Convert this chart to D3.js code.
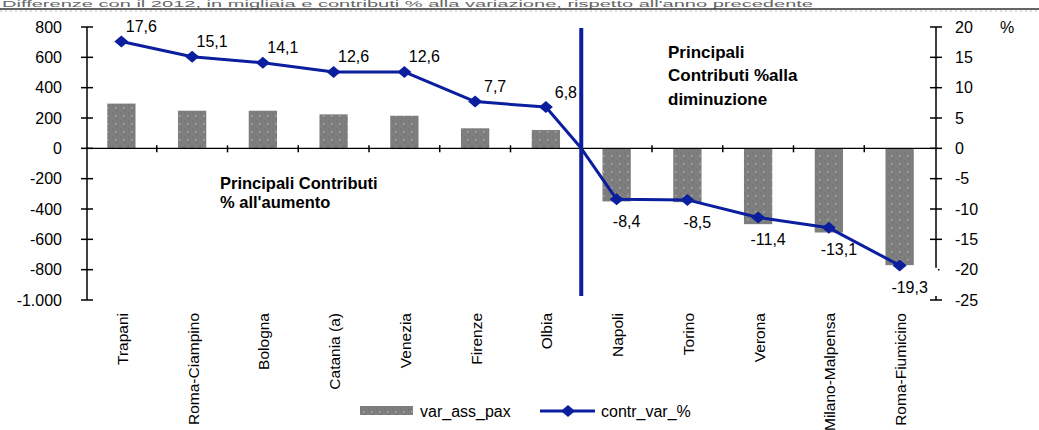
<!DOCTYPE html>
<html><head><meta charset="utf-8">
<script src="https://cdn.jsdelivr.net/npm/d3@7"></script>
<style>
body{margin:0;background:#fff;}
svg{display:block;font-family:"Liberation Sans",Arial,sans-serif;}
</style></head>
<body><svg id="c" width="1039" height="430"></svg>
<script>
const categories = ["Trapani","Roma-Ciampino","Bologna","Catania (a)","Venezia","Firenze","Olbia","Napoli","Torino","Verona","Milano-Malpensa","Roma-Fiumicino"];
const varAssPax = [295, 248, 248, 224, 215, 132, 121, -350, -355, -500, -555, -770];
const contrVar = [17.6, 15.1, 14.1, 12.6, 12.6, 7.7, 6.8, -8.4, -8.5, -11.4, -13.1, -19.3];
const contrLabels = ["17,6","15,1","14,1","12,6","12,6","7,7","6,8","-8,4","-8,5","-11,4","-13,1","-19,3"];
const leftTicks = [800,600,400,200,0,-200,-400,-600,-800,-1000];
const leftTickLabels = ["800","600","400","200","0","-200","-400","-600","-800","-1.000"];
const rightTicks = [20,15,10,5,0,-5,-10,-15,-20,-25];
const splitAfter = "Olbia";
const headerText = "Differenze con il 2012, in migliaia e contributi % alla variazione, rispetto all'anno precedente";

const svg = d3.select("#c");
const blue = "#0a1e9e";

// header
svg.append("text").attr("x",2).attr("y",7).attr("text-anchor","start")
  .attr("font-size",8.5).attr("fill","#666")
  .attr("textLength",811).attr("lengthAdjust","spacingAndGlyphs").text(headerText);
svg.append("line").attr("x1",0).attr("x2",1039).attr("y1",9).attr("y2",9).attr("stroke","#333").attr("stroke-width",1.5);
svg.append("line").attr("x1",0).attr("x2",1039).attr("y1",11).attr("y2",11).attr("stroke","#bbb").attr("stroke-width",1).attr("stroke-dasharray","2,3");

const x = d3.scaleBand().domain(categories).range([86,935]).paddingInner(0).paddingOuter(0);
const yL = d3.scaleLinear().domain([-1000,800]).range([300,27]);
const yR = d3.scaleLinear().domain([-25,20]).range([300,27]);

// pattern
const defs = svg.append("defs");
const pat = defs.append("pattern").attr("id","dots").attr("patternUnits","userSpaceOnUse").attr("width",8).attr("height",8);
pat.append("rect").attr("width",8).attr("height",8).attr("fill","#7e7e7e");
pat.append("rect").attr("x",3).attr("y",3).attr("width",1.5).attr("height",1.5).attr("fill","#a8a8a8");
pat.append("rect").attr("x",0).attr("y",1).attr("width",1).attr("height",1).attr("fill","#6a6a6a");
pat.append("rect").attr("x",5).attr("y",6).attr("width",1).attr("height",1).attr("fill","#6a6a6a");

// bars
const bw = x.bandwidth()*0.4;
svg.append("g").selectAll("rect").data(categories).join("rect")
  .attr("x",(d)=>x(d)+x.bandwidth()/2-bw/2)
  .attr("width",bw)
  .attr("y",(d,i)=>Math.min(yL(varAssPax[i]),yL(0)))
  .attr("height",(d,i)=>Math.abs(yL(varAssPax[i])-yL(0)))
  .attr("fill","url(#dots)");

// zero line with category ticks
svg.append("line").attr("x1",x.range()[0]).attr("x2",x.range()[1]).attr("y1",yL(0)).attr("y2",yL(0)).attr("stroke","#000").attr("stroke-width",1.2);
svg.append("g").selectAll("line").data(categories.slice(1)).join("line")
  .attr("x1",d=>x(d)).attr("x2",d=>x(d)).attr("y1",yL(0)-3).attr("y2",yL(0)+4)
  .attr("stroke","#000").attr("stroke-width",1.5);

// left axis
const gL = svg.append("g").attr("transform","translate(87,0)");
gL.append("line").attr("y1",yL(800)).attr("y2",yL(-1000)).attr("stroke","#000").attr("stroke-width",1.5);
gL.selectAll("line.t").data(leftTicks).join("line").attr("class","t")
  .attr("x1",-6).attr("x2",6).attr("y1",d=>yL(d)).attr("y2",d=>yL(d)).attr("stroke","#000").attr("stroke-width",1.5);
gL.selectAll("text").data(leftTicks).join("text")
  .attr("x",-25).attr("y",d=>yL(d)).attr("dy","0.35em").attr("text-anchor","end")
  .attr("font-size",16).attr("fill","#000").text((d,i)=>leftTickLabels[i]);

// right axis
const gR = svg.append("g").attr("transform","translate(936,0)");
gR.append("line").attr("y1",yR(20)).attr("y2",yR(-20)-2).attr("stroke","#000").attr("stroke-width",1.5);
gR.selectAll("line.t").data(rightTicks).join("line").attr("class","t")
  .attr("x1",d=>d===-20?2:-6).attr("x2",d=>d===-20?3.5:6).attr("y1",d=>yR(d)).attr("y2",d=>yR(d)).attr("stroke","#000").attr("stroke-width",1.5);
gR.append("line").attr("y1",yR(-25)-4).attr("y2",yR(-25)).attr("stroke","#000").attr("stroke-width",1.5);
gR.selectAll("text").data(rightTicks).join("text")
  .attr("x",19).attr("y",d=>yR(d)).attr("dy","0.35em").attr("text-anchor","start")
  .attr("font-size",16).attr("fill","#000").text(d=>d);
gR.append("text").attr("x",64).attr("y",yR(20)).attr("dy","0.35em").attr("font-size",16).text("%");

// vertical separator
const splitX = x(splitAfter)+x.bandwidth();
svg.append("line").attr("x1",splitX).attr("x2",splitX).attr("y1",28).attr("y2",296).attr("stroke",blue).attr("stroke-width",4);

// line series (passes through zero at the split)
const pts = categories.map((c,i)=>[x(c)+x.bandwidth()/2, yR(contrVar[i])]);
const idx = categories.indexOf(splitAfter)+1;
const linePts = pts.slice(0,idx).concat([[splitX,yR(0)]]).concat(pts.slice(idx));
svg.append("path").attr("d",d3.line()(linePts)).attr("fill","none").attr("stroke",blue).attr("stroke-width",3).attr("stroke-linejoin","round");
const diamond = "M0,-6L7,0L0,6L-7,0Z";
svg.append("g").selectAll("path").data(pts).join("path")
  .attr("transform",d=>`translate(${d[0]},${d[1]})`).attr("d",diamond).attr("fill",blue);

// value labels
svg.append("g").selectAll("text").data(categories).join("text")
  .attr("x",(d,i)=>pts[i][0]+(contrVar[i]>=0?20:10))
  .attr("y",(d,i)=>pts[i][1]+(contrVar[i]>=0?-15:22))
  .attr("dy","0.35em").attr("text-anchor","middle").attr("font-size",16).attr("fill","#000")
  .text((d,i)=>contrLabels[i]);

// x labels
svg.append("g").selectAll("text").data(categories).join("text")
  .attr("transform",d=>`translate(${x(d)+x.bandwidth()/2+1},313) rotate(-90)`)
  .attr("text-anchor","end").attr("dy","0.35em").attr("font-size",15.5).attr("fill","#000")
  .text(d=>d);

// annotations
const ann1 = svg.append("text").attr("font-size",16.5).attr("font-weight","bold").attr("fill","#000");
ann1.append("tspan").attr("x",220).attr("y",189).text("Principali Contributi");
ann1.append("tspan").attr("x",220).attr("y",208).text("% all'aumento");
const ann2 = svg.append("text").attr("font-size",17).attr("font-weight","bold").attr("fill","#000");
ann2.append("tspan").attr("x",668).attr("y",58).text("Principali");
ann2.append("tspan").attr("x",668).attr("y",81).text("Contributi %alla");
ann2.append("tspan").attr("x",668).attr("y",105).text("diminuzione");

// legend
const lg = svg.append("g");
lg.append("rect").attr("x",360).attr("y",406).attr("width",53).attr("height",9).attr("fill","url(#dots)");
lg.append("text").attr("x",420).attr("y",411).attr("dy","0.35em").attr("font-size",16).text("var_ass_pax");
lg.append("line").attr("x1",540).attr("x2",595).attr("y1",411).attr("y2",411).attr("stroke",blue).attr("stroke-width",3);
lg.append("path").attr("transform","translate(568,411)").attr("d",diamond).attr("fill",blue);
lg.append("text").attr("x",601).attr("y",411).attr("dy","0.35em").attr("font-size",16).text("contr_var_%");
</script></body></html>
